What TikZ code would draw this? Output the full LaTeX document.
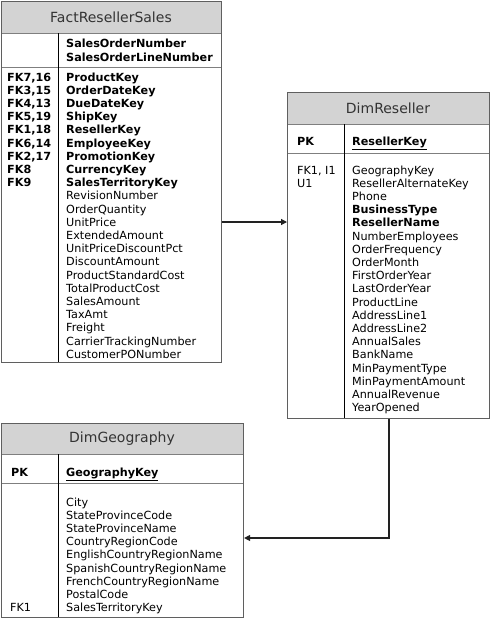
\documentclass[tikz,border=0pt]{standalone}
\usepackage{fontspec}
\setmainfont{DejaVu Sans}
\usetikzlibrary{arrows.meta}
\definecolor{hdr}{HTML}{D3D3D3}
\definecolor{bord}{HTML}{5F5F5F}
\definecolor{linkc}{HTML}{222222}
\begin{document}
\begin{tikzpicture}[x=1pt,y=-1pt,
 row/.style={anchor=base west, inner sep=0pt, font=\fontsize{11.2}{13.2}\selectfont},
 brow/.style={row, font=\fontsize{11.2}{13.2}\selectfont\bfseries},
 ttl/.style={inner sep=0pt, font=\fontsize{14}{16}\selectfont, text=black!80},
 tbox/.style={draw=bord, line width=1.1pt, anchor=north west, inner sep=0pt},
 hline/.style={draw=bord!80, line width=0.8pt},
 vline/.style={draw=black, line width=0.8pt},
 link/.style={draw=linkc, line width=1.2pt, -{Triangle[length=6pt,width=6pt]}}]
\useasboundingbox (0,0) rectangle (490,621);

% ---------------- FactResellerSales
\fill[hdr] (1,1) rectangle (221,33);
\draw[hline] (1,33) -- (221,33);
\draw[hline] (1,67) -- (221,67);
\draw[vline] (58,33) -- (58,362);
\node[tbox, minimum width=220pt, minimum height=361pt] (fact) at (1,1) {};
\node[ttl] (factT) at (111,17) {FactResellerSales};
\node[brow] (factH1) at (66,47.5) {SalesOrderNumber};
\node[brow] (factH2) at (66,61.5) {SalesOrderLineNumber};
\foreach \t [count=\i from 0] in {{FK7,16},{FK3,15},{FK4,13},{FK5,19},{FK1,18},{FK6,14},{FK2,17},{FK8},{FK9}}
  \node[brow] (factK\i) at (7,81+13.2*\i) {\t};
\foreach \t [count=\i from 0] in {ProductKey,OrderDateKey,DueDateKey,ShipKey,ResellerKey,EmployeeKey,PromotionKey,CurrencyKey,SalesTerritoryKey}
  \node[brow] (factB\i) at (66,81+13.2*\i) {\t};
\foreach \t [count=\i from 9] in {RevisionNumber,OrderQuantity,UnitPrice,ExtendedAmount,UnitPriceDiscountPct,DiscountAmount,ProductStandardCost,TotalProductCost,SalesAmount,TaxAmt,Freight,CarrierTrackingNumber,CustomerPONumber}
  \node[row] (factR\i) at (66,81+13.2*\i) {\t};

% ---------------- DimReseller
\fill[hdr] (287,92) rectangle (489,124);
\draw[hline] (287,124) -- (489,124);
\draw[hline] (287,153) -- (489,153);
\draw[vline] (344,124) -- (344,418);
\node[tbox, minimum width=202pt, minimum height=326pt] (res) at (287,92) {};
\node[ttl] (resT) at (388,108) {DimReseller};
\node[brow] (resPK) at (297,145) {PK};
\node[brow] (resPKN) at (352,145) {\underline{ResellerKey}};
\node[row] (resK0) at (297,174) {FK1, I1};
\node[row] (resK1) at (297,187.2) {U1};
\foreach \t [count=\i from 0] in {GeographyKey,ResellerAlternateKey,Phone,\textbf{BusinessType},\textbf{ResellerName},NumberEmployees,OrderFrequency,OrderMonth,FirstOrderYear,LastOrderYear,ProductLine,AddressLine1,AddressLine2,AnnualSales,BankName,MinPaymentType,MinPaymentAmount,AnnualRevenue,YearOpened}
  \node[row] (resR\i) at (352,174+13.2*\i) {\t};

% ---------------- DimGeography
\fill[hdr] (1,423) rectangle (243,454);
\draw[hline] (1,454) -- (243,454);
\draw[hline] (1,483) -- (243,483);
\draw[vline] (58,454) -- (58,617);
\node[tbox, minimum width=242pt, minimum height=194pt] (geo) at (1,423) {};
\node[ttl] (geoT) at (122,438.5) {DimGeography};
\node[brow] (geoPK) at (11,476) {PK};
\node[brow] (geoPKN) at (66,476) {\underline{GeographyKey}};
\node[row] (geoK0) at (10,611.6) {FK1};
\foreach \t [count=\i from 0] in {City,StateProvinceCode,StateProvinceName,CountryRegionCode,EnglishCountryRegionName,SpanishCountryRegionName,FrenchCountryRegionName,PostalCode,SalesTerritoryKey}
  \node[row] (geoR\i) at (66,506+13.2*\i) {\t};

% ---------------- connectors
\coordinate (c1) at (250,222);
\draw[link] (c1 -| fact.east) -- (c1 -| res.west);
\coordinate (c2) at (389,538);
\draw[link] (c2 |- res.south) |- (c2 -| geo.east);
\end{tikzpicture}
\end{document}
